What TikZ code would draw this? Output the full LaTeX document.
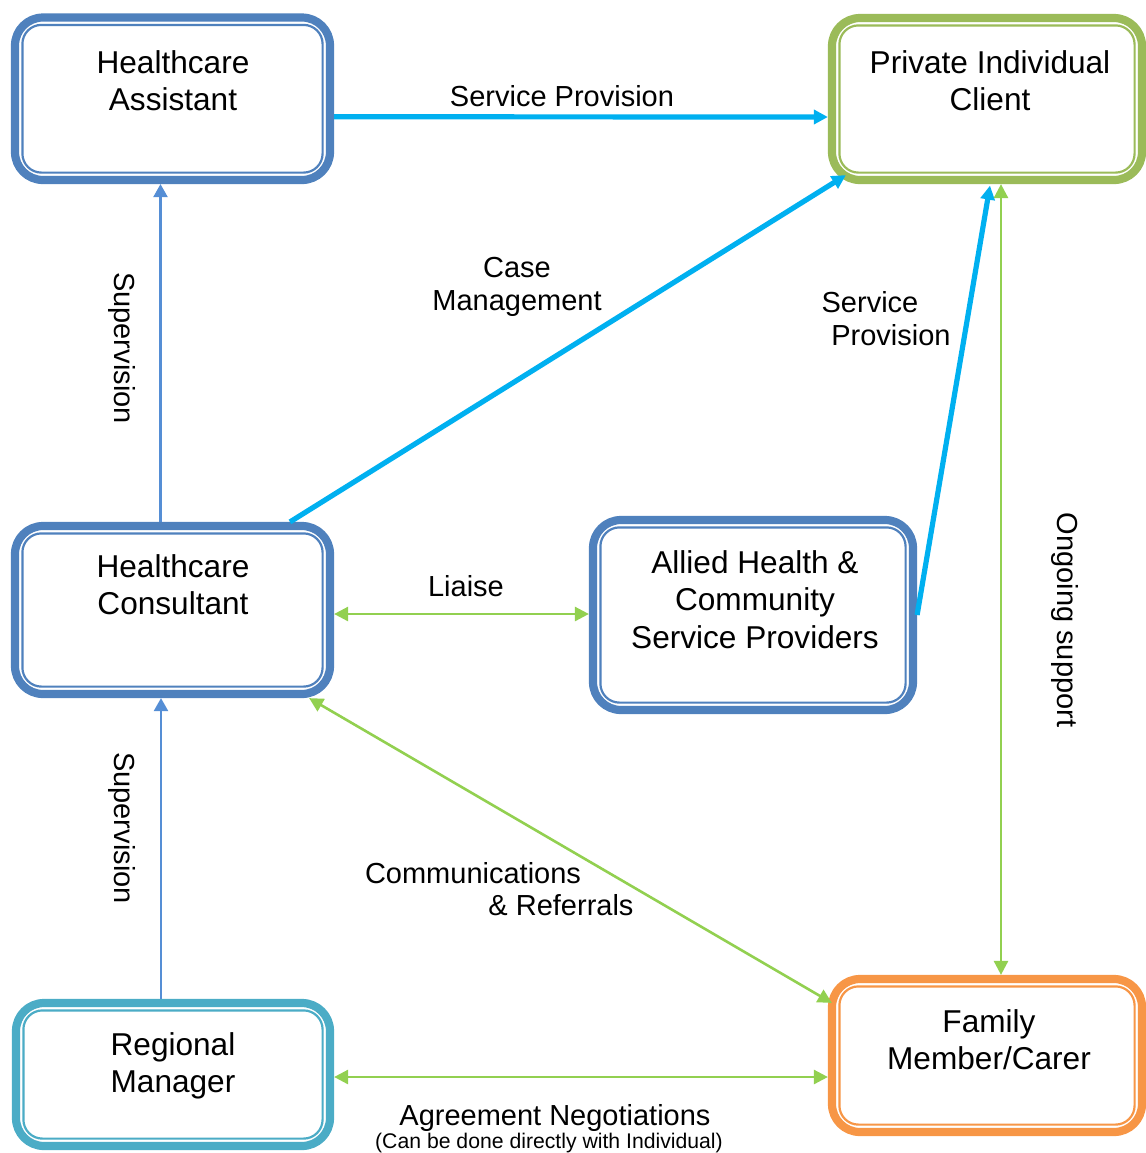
\documentclass[tikz,border=0pt]{standalone}
\usepackage{fontspec}
\setmainfont{Liberation Sans}
\usetikzlibrary{arrows.meta,calc}
\definecolor{bxblue}{HTML}{4F81BD}
\definecolor{bxgreen}{HTML}{9BBB59}
\definecolor{bxteal}{HTML}{4BACC6}
\definecolor{bxorange}{HTML}{F79646}
\definecolor{arrcyan}{HTML}{00B0F0}
\definecolor{arrgreen}{HTML}{92D050}
\definecolor{supblue}{HTML}{558ED5}
\begin{document}
\begin{tikzpicture}[x=0.5pt,y=-0.5pt,
  box/.style={draw=#1, line width=4.1pt, rounded corners=14pt, fill=white,
    inner sep=0pt, outer sep=2.05pt},
  innerbox/.style={draw=#1, line width=1.1pt, rounded corners=9.5pt},
  boxtxt/.style={font=\fontsize{15.8}{18.7}\selectfont, align=center, inner sep=0pt, anchor=north},
  lbl/.style={font=\fontsize{14.5}{17}\selectfont, inner sep=0pt, anchor=base},
  smalllbl/.style={font=\fontsize{10.6}{12}\selectfont, inner sep=0pt, anchor=base},
  rotlbl/.style={font=\fontsize{14.5}{17}\selectfont, inner sep=0pt, rotate=-90},
  cyanarr/.style={draw=arrcyan, line width=2.6pt, -{Triangle[length=7pt,width=7pt]}},
  greenarr/.style={draw=arrgreen, line width=1.3pt,
    {Triangle[length=7pt,width=7pt]}-{Triangle[length=7pt,width=7pt]}},
  suparr/.style={draw=supblue, line width=1.2pt, -{Triangle[length=6.5pt,width=7pt]}}
]
\useasboundingbox (0,0) rectangle (1146,1153);

% boxes
\node[box=bxblue,  minimum width=157.5pt, minimum height=81.25pt] (ha)  at (172.5,98.75) {};
\node[box=bxgreen, minimum width=155pt,   minimum height=81pt]    (pic) at (987,99) {};
\node[box=bxblue,  minimum width=157.5pt, minimum height=84pt]    (hc)  at (172.5,610) {};
\node[box=bxblue,  minimum width=160pt,   minimum height=95pt]    (ah)  at (753,615) {};
\node[box=bxteal,  minimum width=157pt,   minimum height=71.5pt]  (rm)  at (173,1074.5) {};
\node[box=bxorange,minimum width=155pt,   minimum height=76.5pt]  (fm)  at (987,1055.5) {};

\foreach \b/\c in {ha/bxblue,pic/bxgreen,hc/bxblue,ah/bxblue,rm/bxteal,fm/bxorange}{
  \draw[innerbox=\c] ($(\b.north west)+(11.5,11.5)$) rectangle ($(\b.south east)+(-11.5,-11.5)$);
}

% box texts
\node[boxtxt] (tha)  at (173,50)   {Healthcare\\Assistant};
\node[boxtxt] (tpic) at (990,50)   {Private Individual\\Client};
\node[boxtxt] (thc)  at (173,554)  {Healthcare\\Consultant};
\node[boxtxt] (tah)  at (755,550)  {Allied Health \&\\Community\\Service Providers};
\node[boxtxt] (trm)  at (173,1032) {Regional\\Manager};
\node[boxtxt] (tfm)  at (989,1009) {Family\\Member/Carer};

% connectors
\draw[cyanarr] ($(ha.east)+(0,18)$) -- ($(pic.west)+(0,18)$);
\draw[cyanarr] ($(hc.north)+(117.5,0)$) -- ($(pic.south west)+(18,-9)$);
\draw[cyanarr] (ah.east) -- ($(pic.south)+(3,1.5)$);
\draw[greenarr] ($(pic.south)+(14,0)$) -- ($(fm.north)+(14,0)$);
\draw[suparr] ($(hc.north)+(-12,0)$) -- ($(ha.south)+(-12,0)$);
\draw[suparr] ($(rm.north)+(-12,0)$) -- ($(hc.south)+(-11.5,0)$);
\draw[greenarr] ($(hc.east)+(0,4)$) -- ($(ah.west)+(0,-1)$);
\draw[greenarr] ($(hc.south east)+(-25,0)$) -- ($(fm.north west)+(4,28)$);
\draw[greenarr] ($(rm.east)+(0,2.5)$) -- ($(fm.west)+(0,21.5)$);

% labels
\node[lbl] (l1) at (562,106) {Service Provision};
\node[lbl] (l2a) at (517,277) {Case};
\node[lbl] (l2b) at (517,310) {Management};
\node[lbl] (l3a) at (870,312) {Service};
\node[lbl] (l3b) at (891,345) {Provision};
\node[lbl] (l4) at (466,596) {Liaise};
\node[lbl] (l5a) at (473,883) {Communications};
\node[lbl] (l5b) at (561,915) {\& Referrals};
\node[lbl] (l6a) at (555,1125) {Agreement Negotiations};
\node[smalllbl] (l6b) at (549,1148) {(Can be done directly with Individual)};
\node[rotlbl] (s1) at (122,348) {Supervision};
\node[rotlbl] (s2) at (122,828) {Supervision};
\node[rotlbl] (og) at (1065,620) {Ongoing support};
\end{tikzpicture}
\end{document}
